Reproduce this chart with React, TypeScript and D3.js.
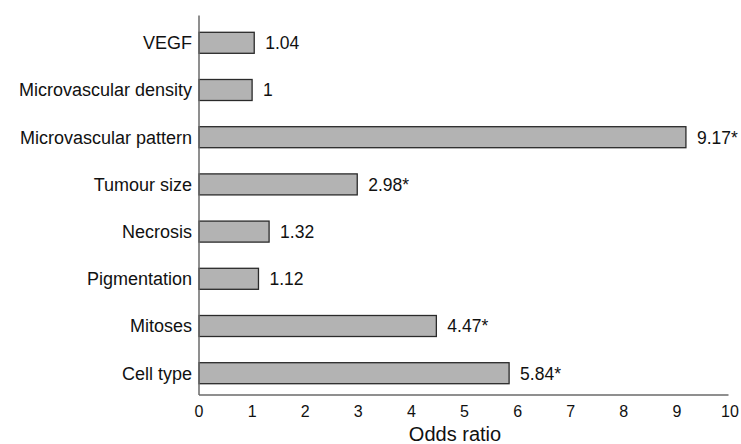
import { useRef, useEffect } from "react";
import * as d3 from "d3";

const categories = [
  "VEGF",
  "Microvascular density",
  "Microvascular pattern",
  "Tumour size",
  "Necrosis",
  "Pigmentation",
  "Mitoses",
  "Cell type",
];
const oddsRatios = [1.04, 1, 9.17, 2.98, 1.32, 1.12, 4.47, 5.84];
const valueLabels = ["1.04", "1", "9.17*", "2.98*", "1.32", "1.12", "4.47*", "5.84*"];
const xTicks = [0, 1, 2, 3, 4, 5, 6, 7, 8, 9, 10];

export default function App() {
  const svgRef = useRef<SVGSVGElement>(null);

  useEffect(() => {
    if (!svgRef.current) return;
    const svg = d3.select(svgRef.current);
    svg.selectAll("*").remove();

    const width = 741;
    const height = 444;
    const left = 199;
    const right = 730;
    const axisY = 395;
    const font = "'Liberation Sans', Arial, sans-serif";
    const ink = "#111";
    const axisColor = "#6a6a6a";

    const x = d3.scaleLinear().domain([0, 10]).range([left, right]);
    const y = d3
      .scaleBand()
      .domain(categories)
      .range([19.2, 396.8])
      .paddingInner(0.555)
      .paddingOuter(0.2775);

    svg.attr("viewBox", `0 0 ${width} ${height}`).attr("width", width).attr("height", height);

    // Bars
    svg
      .selectAll(".bar")
      .data(categories)
      .join("rect")
      .attr("class", "bar")
      .attr("x", x(0))
      .attr("y", (d) => y(d) ?? 0)
      .attr("width", (_, i) => x(oddsRatios[i]) - x(0))
      .attr("height", y.bandwidth())
      .attr("fill", "#b3b3b3")
      .attr("stroke", "#2a2a2a")
      .attr("stroke-width", 1.3);

    // Value labels
    svg
      .selectAll(".val")
      .data(categories)
      .join("text")
      .attr("class", "val")
      .attr("x", (_, i) => x(oddsRatios[i]) + 11)
      .attr("y", (d) => (y(d) ?? 0) + y.bandwidth() / 2)
      .attr("dy", "0.36em")
      .attr("font-family", font)
      .attr("font-size", 17.5)
      .attr("fill", ink)
      .text((_, i) => valueLabels[i]);

    // Category labels
    svg
      .selectAll(".cat")
      .data(categories)
      .join("text")
      .attr("class", "cat")
      .attr("x", left - 7)
      .attr("y", (d) => (y(d) ?? 0) + y.bandwidth() / 2)
      .attr("dy", "0.36em")
      .attr("text-anchor", "end")
      .attr("font-family", font)
      .attr("font-size", 18)
      .attr("fill", ink)
      .text((d) => d);

    // Axis lines
    svg
      .append("line")
      .attr("x1", left)
      .attr("x2", left)
      .attr("y1", 15.5)
      .attr("y2", axisY)
      .attr("stroke", axisColor)
      .attr("stroke-width", 1.5);
    svg
      .append("line")
      .attr("x1", left)
      .attr("x2", right - 1.5)
      .attr("y1", axisY)
      .attr("y2", axisY)
      .attr("stroke", axisColor)
      .attr("stroke-width", 1.5);

    // X tick labels
    svg
      .selectAll(".tick-label")
      .data(xTicks)
      .join("text")
      .attr("class", "tick-label")
      .attr("x", (d) => x(d))
      .attr("y", 416.5)
      .attr("text-anchor", "middle")
      .attr("font-family", font)
      .attr("font-size", 16)
      .attr("fill", ink)
      .text((d) => String(d));

    // Axis title
    svg
      .append("text")
      .attr("x", 455)
      .attr("y", 441)
      .attr("text-anchor", "middle")
      .attr("font-family", font)
      .attr("font-size", 20)
      .attr("fill", ink)
      .text("Odds ratio");
  }, []);

  return (
    <div style={{ position: "absolute", left: 0, top: 0 }}>
      <svg ref={svgRef} style={{ display: "block" }} />
    </div>
  );
}
